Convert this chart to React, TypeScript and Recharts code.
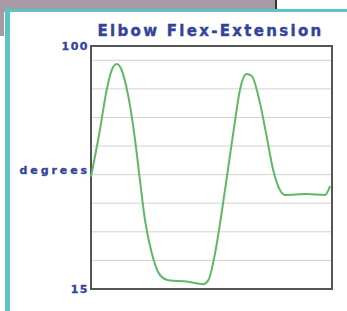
import { LineChart, Line, XAxis, YAxis, CartesianGrid, ReferenceArea, Label } from 'recharts';

// percent of motion cycle
const cycle = [0, 3.7, 6.5, 8.6, 10.7, 12.7, 15.5, 18.3, 20.3, 22.4, 25.2, 28.6, 32.1, 39.7, 46.6, 48.7, 51.5, 54.2, 57.0, 59.8, 61.8, 64.6, 66.7, 70.1, 72.9, 75.6, 78.4, 80.5, 89.5, 97.1, 99.2];
// elbow angle in degrees
const degrees = [54.3, 70.6, 84.6, 91.6, 93.7, 91.6, 82.3, 67.1, 53.1, 39.1, 27.6, 19.9, 18.1, 17.6, 16.7, 18.1, 27.6, 41.6, 57.8, 74.1, 84.6, 90.2, 89.5, 80.1, 68.3, 56.6, 49.6, 47.9, 48.2, 47.9, 51.0];
const yTicks = [15, 25, 35, 45, 55, 65, 75, 85, 95, 100];
const labelledTicks = [15, 100];

const data = cycle.map((t, i) => ({ t, deg: degrees[i] }));

const navy = '#34439a';

function YTick({ x, y, payload }: any) {
  if (!labelledTicks.includes(payload.value)) return null;
  return (
    <text x={x + 1} y={y} dy={4} textAnchor="end" fill={navy} fontSize={11} fontWeight="bold" letterSpacing={1.5}
      fontFamily="DejaVu Sans" stroke={navy} strokeWidth={0.3}>
      {payload.value}
    </text>
  );
}

export default function App() {
  return (
    <div style={{ position: 'absolute', left: 0, top: 0, width: 347, height: 311, background: '#fff', overflow: 'hidden' }}>
      {/* window chrome behind the panel */}
      <div style={{ position: 'absolute', left: 0, top: 0, width: 276, height: 9, background: '#a89aa5' }} />
      <div style={{ position: 'absolute', left: 275, top: 0, width: 2, height: 10, background: '#3a3438' }} />
      <div style={{ position: 'absolute', left: 4, top: 9, width: 343, height: 3, background: '#5cc4c6' }} />
      <div style={{ position: 'absolute', left: 5, top: 9, width: 5, height: 302, background: '#5cc4c6' }} />
      <div style={{ position: 'absolute', left: 0, top: 0, width: 4, height: 36, background: '#a89aa5' }} />
      <div
        style={{
          position: 'absolute', left: 90, top: 22, width: 241, textAlign: 'center',
          fontFamily: 'DejaVu Sans', fontWeight: 'bold', fontSize: 15, letterSpacing: 2.3, color: navy,
          WebkitTextStroke: '0.4px ' + navy,
        }}
      >
        Elbow Flex-Extension
      </div>
      <div style={{ position: 'absolute', left: 0, top: 0 }}>
        <LineChart width={347} height={311} data={data} margin={{ top: 46, right: 15, bottom: 22, left: 8 }}>
          <CartesianGrid horizontal vertical={false} stroke="#d2d2d2" />
          <XAxis type="number" dataKey="t" domain={[0, 100]} hide />
          <YAxis
            type="number"
            domain={[15, 100]}
            ticks={yTicks}
            width={83}
            axisLine={false}
            tickLine={false}
            tickSize={0}
            tickMargin={3}
            tick={<YTick />}
            interval={0}
          >
            <Label value="degrees" position="insideRight" offset={1} fill={navy} fontSize={11} fontWeight="bold"
              fontFamily="DejaVu Sans" letterSpacing={2.9} stroke={navy} strokeWidth={0.3} dy={3} />
          </YAxis>
          <ReferenceArea x1={0} x2={100} y1={15} y2={100} fill="none" stroke="#555" strokeWidth={2} />
          <Line type="monotone" dataKey="deg" stroke="#5fb866" strokeWidth={2} dot={false} isAnimationActive={false} />
        </LineChart>
      </div>
    </div>
  );
}
